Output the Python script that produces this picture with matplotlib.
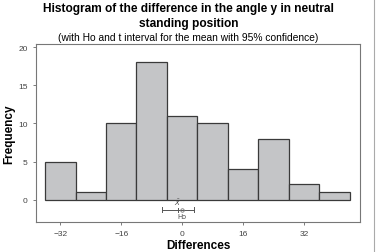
import numpy as np
from matplotlib import pyplot as plt
from matplotlib.lines import Line2D

plt.rcParams['font.family'] = ['Liberation Sans', 'DejaVu Sans']

# histogram bins and counts
bin_edges = [-36, -28, -20, -12, -4, 4, 12, 20, 28, 36, 44]
counts = [5, 1, 10, 18, 11, 10, 4, 8, 2, 1]

# t interval for the mean and Ho
mean_diff = -1.1
ci_low = -5.2
ci_high = 3.0
h0 = 0

x_ticks = [-32, -16, 0, 16, 32]
y_ticks = [0, 5, 10, 15, 20]

fig = plt.figure(figsize=(3.77, 2.53), dpi=100)
fig.patch.set_facecolor('white')
ax = fig.add_axes([0.0955, 0.119, 0.86, 0.703])

edges = np.asarray(bin_edges)
ax.bar(edges[:-1], counts, width=np.diff(edges), align='edge',
       color='#c4c5c7', edgecolor='#3a3a3a', linewidth=0.9, zorder=2)

# interval below the zero line
y_ci = -1.3
ax.plot([ci_low, ci_high], [y_ci, y_ci], color='#555555', lw=0.7, zorder=3)
for xe in (ci_low, ci_high):
    ax.plot([xe, xe], [y_ci - 0.3, y_ci + 0.3], color='#555555', lw=0.7, zorder=3)
ax.plot([mean_diff, mean_diff], [y_ci - 0.25, y_ci + 0.25], color='#555555', lw=0.7, zorder=3)
ax.plot([h0], [y_ci], marker='o', ms=2.5, mfc='none', mec='#777777', mew=0.6, zorder=4)
ax.text(mean_diff, y_ci + 0.35, r'$\bar{X}$', fontsize=5, ha='center', va='bottom', color='#444444')
ax.text(h0, y_ci - 0.45, 'Ho', fontsize=5, ha='center', va='top', color='#444444')

ax.set_xlim(-38.4, 46.8)
ax.set_ylim(-2.9, 20.4)
ax.set_xticks(x_ticks)
ax.set_yticks(y_ticks)
ax.tick_params(labelsize=6, labelcolor='#444444', length=2.5, width=0.6, color='#666666')
for s in ax.spines.values():
    s.set_color('#777777')
    s.set_linewidth(0.8)

ax.set_xlabel('Differences', fontsize=8.5, fontweight='bold', labelpad=1)
ax.set_ylabel('Frequency', fontsize=8.5, fontweight='bold', labelpad=2)

fig.text(0.5, 0.99, 'Histogram of the difference in the angle y in neutral\nstanding position',
         ha='center', va='top', fontsize=8.6, fontweight='bold', linespacing=1.4)
fig.text(0.5, 0.85, '(with Ho and t interval for the mean with 95% confidence)',
         ha='center', va='center', fontsize=7.4)

# faint frame edge on the right as in the screenshot
fig.add_artist(Line2D([0.992, 0.992], [0, 1], transform=fig.transFigure, color='#aaaaaa', lw=0.8))

fig.savefig('out.png', dpi=100)
